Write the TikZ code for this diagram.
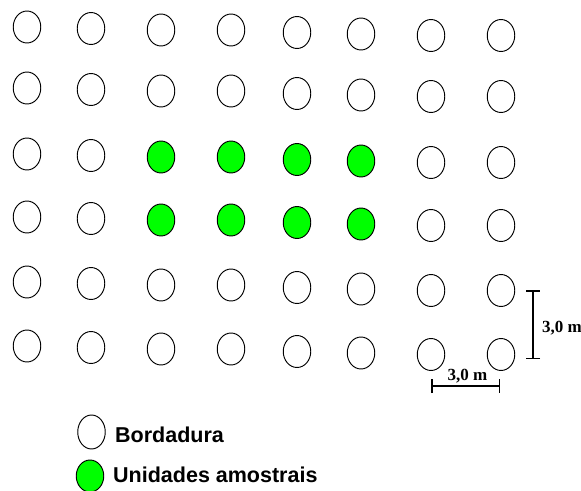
\documentclass[tikz,border=0pt]{standalone}
\usepackage{fontspec}
\setmainfont{Liberation Sans}
\newfontfamily\escalafont{Liberation Serif}
\usepackage{xcolor}
\usetikzlibrary{shapes.geometric,arrows.meta}

\definecolor{verdeamostra}{RGB}{0,255,0}

\tikzset{
  planta/.style={ellipse, draw=black, line width=0.95pt, fill=white,
    minimum width=27.5pt, minimum height=32pt, inner sep=0pt},
  amostral/.style={planta, fill=verdeamostra},
  barra/.style={line width=1.5pt, {Bar[width=14pt]}-{Bar[width=14pt]}},
  rotulo/.style={inner sep=0pt, font=\escalafont\fontsize{17}{19}\selectfont\bfseries},
  legenda/.style={inner sep=0pt, font=\fontsize{21.5}{24}\selectfont\bfseries}
}

\begin{document}
\begin{tikzpicture}[x=1pt,y=1pt,yscale=-1,xscale=1]
            \useasboundingbox (0,0) rectangle (581,490);

            %Shape: Ellipse grid (6 rows x 8 columns)
            \foreach \yb [count=\r] in {27,88,154,217,282,346}{
              \foreach \xc/\dy [count=\c] in {27/0,91/1.5,161/3,231/3,297/5.5,361/7,431/8.5,501/8.5}{
                \pgfmathtruncatemacro{\verde}{(\r==3 || \r==4) && \c>2 && \c<7}
                \ifnum\verde=1
                  \node [amostral] (p-\r-\c) at (\xc,\yb+\dy) {};
                \else
                  \node [planta] (p-\r-\c) at (\xc,\yb+\dy) {};
                \fi
              }
            }

            %Straight Lines: scale bars
            \coordinate (v-topo) at (533,290);
            \coordinate (v-base) at (533,359);
            \coordinate (h-esq) at (431,386);
            \coordinate (h-dir) at (500,386);
            \draw [barra] (v-topo) -- (v-base);
            \draw [barra] (h-esq) -- (h-dir);

            % Text Node
            \node [rotulo, anchor=base west] (r-vert) at (542,332) {3,0 m};
            % Text Node
            \node [rotulo, anchor=base] (r-horiz) at (467.5,380) {3,0 m};

            %Shape: Ellipse (legend)
            \node [planta, minimum height=34pt] (leg-borda) at (91.5,432) {};
            \node [amostral] (leg-amostra) at (90,476) {};
            % Text Node
            \node [legenda, anchor=base west] (t-borda) at (115,442) {Bordadura};
            % Text Node
            \node [legenda, anchor=base west] (t-amostra) at (113,482) {Unidades amostrais};

\end{tikzpicture}
\end{document}
